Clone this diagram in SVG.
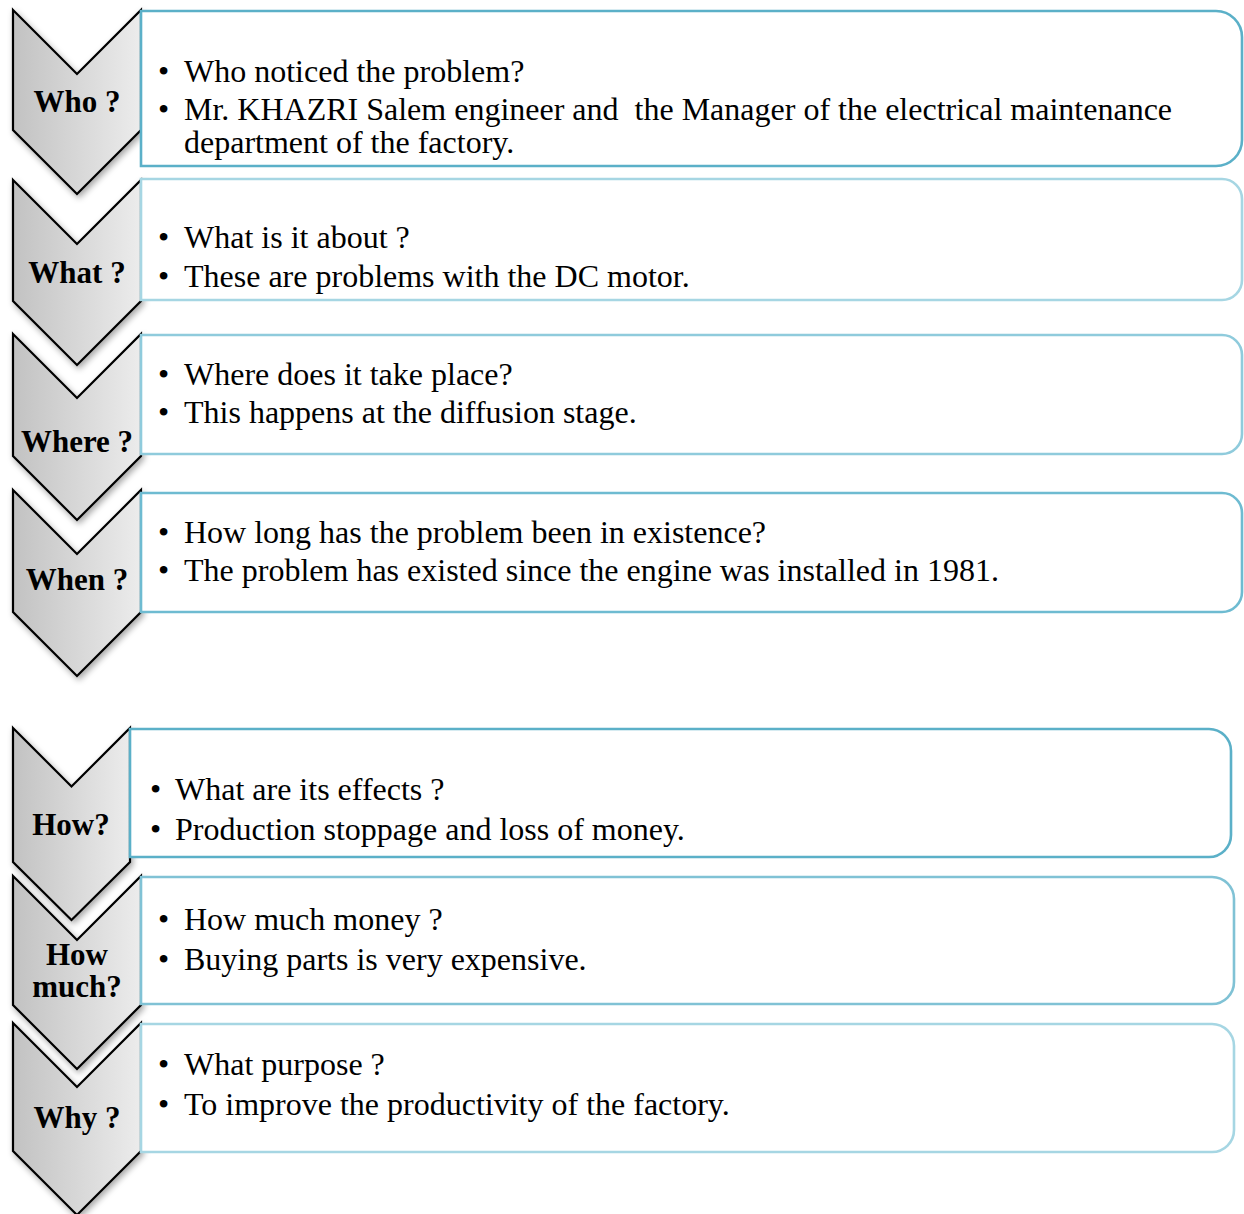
<svg xmlns="http://www.w3.org/2000/svg" width="1244" height="1214" viewBox="0 0 1244 1214">
<defs>
<linearGradient id="cg" x1="0" y1="0" x2="1" y2="0">
<stop offset="0" stop-color="#c2c2c2"/>
<stop offset="1" stop-color="#ececec"/>
</linearGradient>
<filter id="sh" x="-20%" y="-10%" width="140%" height="130%">
<feDropShadow dx="2" dy="3" stdDeviation="3" flood-color="#000" flood-opacity="0.35"/>
</filter>
</defs>
<style>
.chev{fill:url(#cg);stroke:#000;stroke-width:2.2;stroke-linejoin:miter;filter:url(#sh)}
.box{fill:#fff;stroke-width:2.6}
.lbl{font-family:"Liberation Serif","Times New Roman",serif;font-weight:bold;font-size:31px;fill:#000;text-anchor:middle}
.txt{font-family:"Liberation Serif","Times New Roman",serif;font-size:32px;fill:#000;white-space:pre}
</style>
<rect width="1244" height="1214" fill="#fff"/>
<g id="connectors"></g>

<g id="who">
<path class="chev" d="M13,10 L77,74 L141,10 V130 L77,194 L13,130 Z"/>
<path class="box" stroke="#5bb0c8" d="M141,11 H1216 A26,26 0 0 1 1242,37 V140 A26,26 0 0 1 1216,166 H141 Z"/>
<text class="lbl" x="77" y="112">Who ?</text>
<text class="txt" x="158" y="82">•</text><text class="txt" x="184" y="82">Who noticed the problem?</text>
<text class="txt" x="158" y="120">•</text><text class="txt" x="184" y="120">Mr. KHAZRI Salem engineer and  the Manager of the electrical maintenance</text>
<text class="txt" x="184" y="153">department of the factory.</text>
</g>

<g id="what">
<path class="chev" d="M13,180 L77,244 L141,180 V301 L77,365 L13,301 Z"/>
<path class="box" stroke="#a6d6e3" d="M141,179 H1222 A20,20 0 0 1 1242,199 V280 A20,20 0 0 1 1222,300 H141 Z"/>
<text class="lbl" x="77" y="283">What ?</text>
<text class="txt" x="158" y="248">•</text><text class="txt" x="184" y="248">What is it about ?</text>
<text class="txt" x="158" y="287">•</text><text class="txt" x="184" y="287">These are problems with the DC motor.</text>
</g>

<g id="where">
<path class="chev" d="M13,334 L77,398 L141,334 V456 L77,520 L13,456 Z"/>
<path class="box" stroke="#8fcbdc" d="M141,335 H1222 A20,20 0 0 1 1242,355 V434 A20,20 0 0 1 1222,454 H141 Z"/>
<text class="lbl" x="77" y="452">Where ?</text>
<text class="txt" x="158" y="385">•</text><text class="txt" x="184" y="385">Where does it take place?</text>
<text class="txt" x="158" y="423">•</text><text class="txt" x="184" y="423">This happens at the diffusion stage.</text>
</g>

<g id="when">
<path class="chev" d="M13,490 L77,554 L141,490 V612 L77,676 L13,612 Z"/>
<path class="box" stroke="#6ebbd1" d="M141,493 H1222 A20,20 0 0 1 1242,513 V592 A20,20 0 0 1 1222,612 H141 Z"/>
<text class="lbl" x="77" y="590">When ?</text>
<text class="txt" x="158" y="543">•</text><text class="txt" x="184" y="543">How long has the problem been in existence?</text>
<text class="txt" x="158" y="581">•</text><text class="txt" x="184" y="581">The problem has existed since the engine was installed in 1981.</text>
</g>

<g id="how">
<path class="chev" d="M13,728 L71.5,786.5 L130,728 V862 L71.5,920 L13,862 Z"/>
<path class="box" stroke="#5bb0c8" d="M130,729 H1209 A22,22 0 0 1 1231,751 V835 A22,22 0 0 1 1209,857 H130 Z"/>
<text class="lbl" x="71" y="835">How?</text>
<text class="txt" x="150" y="800">•</text><text class="txt" x="175" y="800">What are its effects ?</text>
<text class="txt" x="150" y="840">•</text><text class="txt" x="175" y="840">Production stoppage and loss of money.</text>
</g>

<g id="howmuch">
<path class="chev" d="M13,876 L77,940 L141,876 V1005 L77,1069 L13,1005 Z"/>
<path class="box" stroke="#80c2d5" d="M141,877 H1212 A22,22 0 0 1 1234,899 V982 A22,22 0 0 1 1212,1004 H141 Z"/>
<text class="lbl" x="77" y="965">How</text>
<text class="lbl" x="77" y="997">much?</text>
<text class="txt" x="158" y="930">•</text><text class="txt" x="184" y="930">How much money ?</text>
<text class="txt" x="158" y="970">•</text><text class="txt" x="184" y="970">Buying parts is very expensive.</text>
</g>

<g id="why">
<path class="chev" d="M13,1023 L77,1087 L141,1023 V1151 L77,1215 L13,1151 Z"/>
<path class="box" stroke="#a6d6e3" d="M141,1024 H1212 A22,22 0 0 1 1234,1046 V1130 A22,22 0 0 1 1212,1152 H141 Z"/>
<text class="lbl" x="77" y="1128">Why ?</text>
<text class="txt" x="158" y="1075">•</text><text class="txt" x="184" y="1075">What purpose ?</text>
<text class="txt" x="158" y="1115">•</text><text class="txt" x="184" y="1115">To improve the productivity of the factory.</text>
</g>
</svg>
